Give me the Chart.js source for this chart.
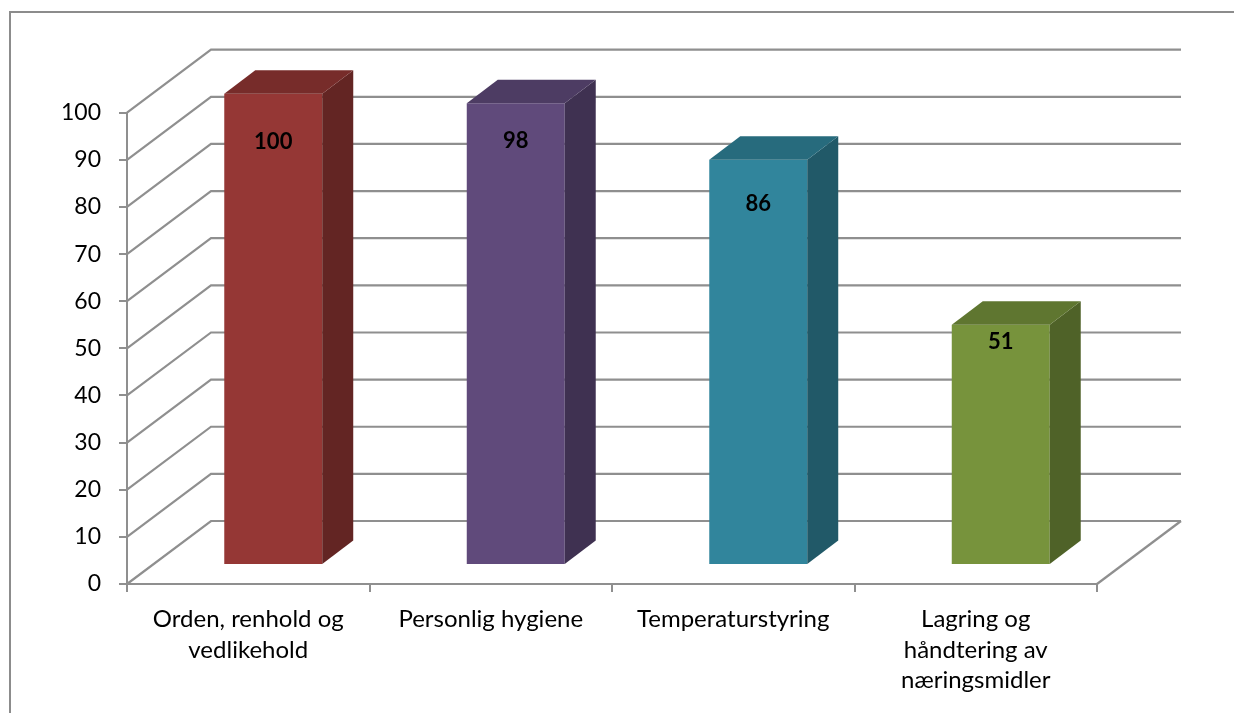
<!DOCTYPE html>
<html>
<head>
<meta charset="utf-8">
<script src="https://cdn.jsdelivr.net/npm/chart.js@4.4.1/dist/chart.umd.min.js"></script>
<style>
  html, body { margin: 0; padding: 0; background: #ffffff; }
  #wrap { width: 1234px; height: 713px; position: relative; }
</style>
</head>
<body>
<div id="wrap"><canvas id="c" width="1234" height="713"></canvas></div>
<script>
// Kontrollområder og resultat (prosent)
const categories = [
  ["Orden, renhold og", "vedlikehold"],
  ["Personlig hygiene"],
  ["Temperaturstyring"],
  ["Lagring og", "håndtering av", "næringsmidler"]
];
const values = [100, 98, 86, 51];
const yTicks = [0, 10, 20, 30, 40, 50, 60, 70, 80, 90, 100];

// Bar colours: front face, right side, top
const frontColors = ["#953735", "#604a7b", "#31859c", "#77933c"];
const sideColors  = ["#632523", "#3f3151", "#215968", "#4f6228"];
const topColors   = ["#772c2a", "#4d3c63", "#276b7d", "#5f7630"];

// Where the value label sits below the top of each bar
const labelDrop = [48, 38, 44, 17];

const FONT = "Lato, 'Open Sans', sans-serif";
const GRID = "#8f8f8f";

// 3D projection: depth of the walls and of the bars
const WALL = { dx: 84, dy: -63 };
const BAR_FRONT = { dx: 25, dy: -19 };
const BAR_DEPTH = { dx: 31, dy: -23.5 };

const frame3d = {
  id: "frame3d",
  beforeDraw(chart) {
    const ctx = chart.ctx;
    ctx.save();
    ctx.strokeStyle = "#8c8c8c";
    ctx.lineWidth = 2;
    ctx.beginPath();
    ctx.moveTo(10, 713);
    ctx.lineTo(10, 12);
    ctx.lineTo(1234, 12);
    ctx.stroke();
    ctx.restore();
  },
  beforeDatasetsDraw(chart) {
    const ctx = chart.ctx;
    const { left, right } = chart.chartArea;
    const y = chart.scales.y;
    ctx.save();
    ctx.strokeStyle = GRID;
    ctx.lineWidth = 2.2;
    ctx.lineCap = "butt";
    yTicks.forEach(v => {
      const yf = y.getPixelForValue(v);
      ctx.beginPath();
      ctx.moveTo(left, yf);
      ctx.lineTo(left + WALL.dx, yf + WALL.dy);
      ctx.lineTo(right + WALL.dx, yf + WALL.dy);
      ctx.stroke();
    });
    // right edge of the floor
    const y0 = y.getPixelForValue(0);
    ctx.beginPath();
    ctx.moveTo(right, y0);
    ctx.lineTo(right + WALL.dx, y0 + WALL.dy);
    ctx.stroke();
    ctx.restore();

    // the bars' front faces sit part way into the depth
    ctx.save();
    ctx.translate(BAR_FRONT.dx, BAR_FRONT.dy);
  },
  afterDatasetsDraw(chart) {
    const ctx = chart.ctx;
    const meta = chart.getDatasetMeta(0);
    meta.data.forEach((bar, i) => {
      const p = bar.getProps(["x", "y", "base", "width"], true);
      const l = p.x - p.width / 2, r = p.x + p.width / 2;
      const t = p.y, b = p.base;
      const dx = BAR_DEPTH.dx, dy = BAR_DEPTH.dy;
      // side
      ctx.fillStyle = sideColors[i];
      ctx.beginPath();
      ctx.moveTo(r, t);
      ctx.lineTo(r + dx, t + dy);
      ctx.lineTo(r + dx, b + dy);
      ctx.lineTo(r, b);
      ctx.closePath();
      ctx.fill();
      // top
      ctx.fillStyle = topColors[i];
      ctx.beginPath();
      ctx.moveTo(l, t);
      ctx.lineTo(l + dx, t + dy);
      ctx.lineTo(r + dx, t + dy);
      ctx.lineTo(r, t);
      ctx.closePath();
      ctx.fill();
      // value label
      ctx.fillStyle = "#000000";
      ctx.font = "bold 22px " + FONT;
      ctx.textAlign = "center";
      ctx.textBaseline = "middle";
      ctx.fillText(String(values[i]), p.x, t + labelDrop[i]);
    });
    ctx.restore();
  }
};

new Chart(document.getElementById("c"), {
  type: "bar",
  data: {
    labels: categories,
    datasets: [{
      data: values,
      backgroundColor: frontColors,
      borderWidth: 0,
      categoryPercentage: 1,
      barPercentage: 0.404,
      clip: false
    }]
  },
  options: {
    responsive: false,
    animation: false,
    events: [],
    layout: { padding: { left: 0, top: 112.7, right: 137, bottom: 0 } },
    plugins: { legend: { display: false }, tooltip: { enabled: false } },
    scales: {
      y: {
        min: 0,
        max: 100,
        afterFit(s) { s.width = 127; },
        afterBuildTicks(s) { s.ticks = yTicks.map(v => ({ value: v })); },
        ticks: {
          color: "#000000",
          font: { family: FONT, size: 23 },
          padding: 18
        },
        grid: {
          drawOnChartArea: false,
          drawTicks: true,
          tickLength: 8,
          color: GRID,
          lineWidth: 2
        },
        border: { display: true, color: GRID, width: 2 }
      },
      x: {
        afterFit(s) { s.height = 713 - 584; },
        ticks: {
          color: "#000000",
          font: { family: FONT, size: 24, lineHeight: 1.27 },
          padding: 12.5,
          maxRotation: 0,
          autoSkip: false
        },
        grid: {
          offset: true,
          drawOnChartArea: false,
          drawTicks: true,
          tickLength: 8,
          color: GRID,
          lineWidth: 2
        },
        border: { display: true, color: GRID, width: 2 }
      }
    }
  },
  plugins: [frame3d]
});
</script>
</body>
</html>
